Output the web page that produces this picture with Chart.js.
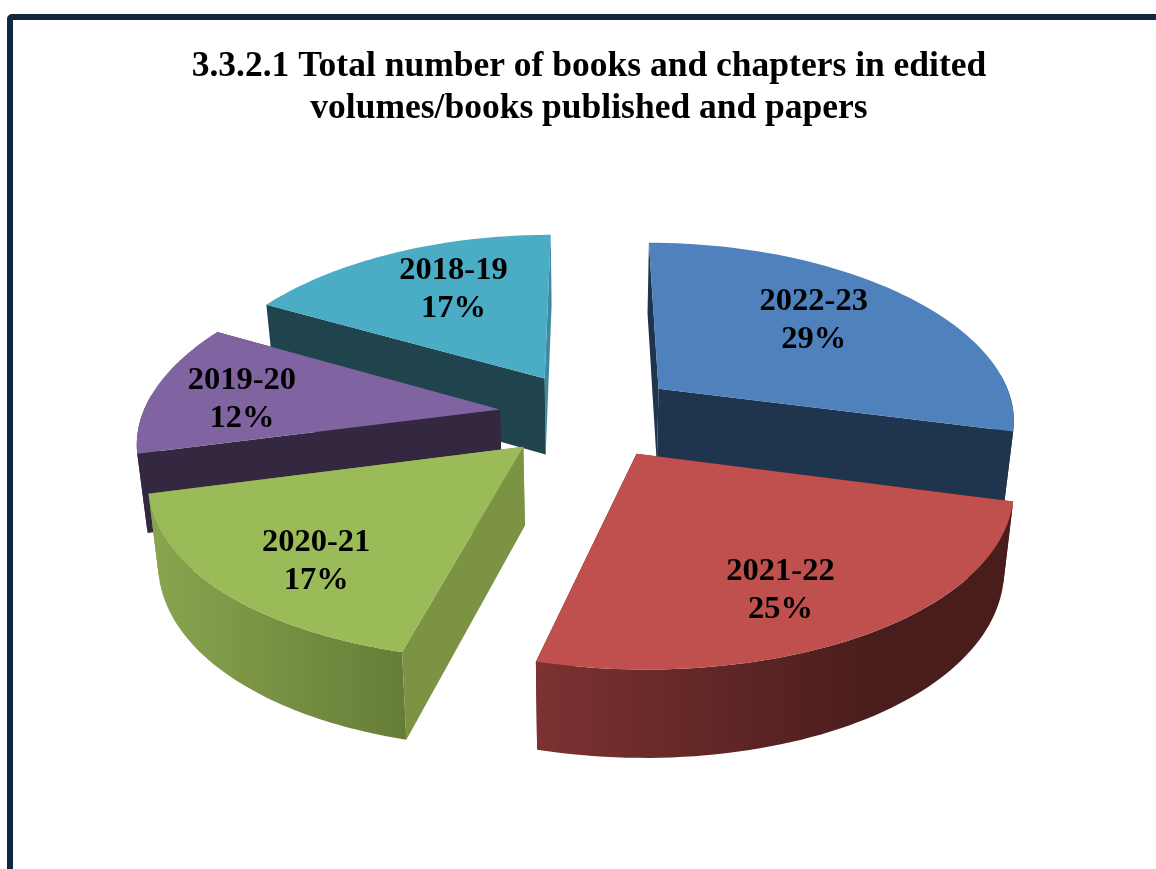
<!DOCTYPE html>
<html>
<head>
<meta charset="utf-8">
<script src="https://cdn.jsdelivr.net/npm/chart.js@4"></script>
<style>
    html, body { margin: 0; padding: 0; background: #fff; overflow: hidden; }
    #frame { position: absolute; left: 7px; top: 14px; width: 2000px; height: 2000px;
             border: 6px solid #10273f; border-radius: 5px; }
    #myChart { position: absolute; left: 0; top: 0; display: block; }
</style>
</head>
<body>
<div id="frame"></div>
<canvas id="myChart" width="1156" height="869"></canvas>
<script>
// values, clockwise from the top
const years = ["2022-23", "2021-22", "2020-21", "2019-20", "2018-19"];
const shares = [29, 25, 17, 12, 17];

// colours per slice
const topColors = ["#4f81bd", "#c0504d", "#9bbb59", "#8064a2", "#4bacc6"];
const faceColors = ["#1f344d", "#4a1e1e", "#7c9344", "#33283f", "#1f444d"];
const bandLeft = ["#1f344d", "#7c3231", "#8aa54f", "#33283f", "#1f444d"];
const bandRight = ["#1f344d", "#4a1d1d", "#667d38", "#33283f", "#1f444d"];

// small shifts of the labels from their spot on the slice
const labelNudge = [[-2, -11], [11, 28], [-28, 27], [-43, 1], [6, -10]];

// fake 3D view of the pie plane
const tilt = 0.475;
const depth = 2595;

function project(u, v, cx, cy) {
    const s = 1 / (1 - v / depth);
    return { x: cx + 0.98 * u * Math.pow(s, 1.15), y: cy + tilt * v * s, s: s };
}

// same point, but on the underside of the slice
function lower(p, cx) {
    return { x: cx + (p.x - cx) * 0.977, y: p.y + 25.6 + 52 * p.s };
}

function fillPoly(ctx, pts, color) {
    ctx.beginPath();
    pts.forEach((p, i) => i ? ctx.lineTo(p.x, p.y) : ctx.moveTo(p.x, p.y));
    ctx.closePath();
    ctx.fillStyle = color;
    ctx.fill();
}

const pie3d = {
    id: "pie3d",
    beforeDatasetDraw(chart, args) {
        const ctx = chart.ctx;
        const arcs = args.meta.data;

        // back slices first
        const order = arcs.map((a, i) => i).sort((a, b) => {
            const ma = (arcs[a].startAngle + arcs[a].endAngle) / 2;
            const mb = (arcs[b].startAngle + arcs[b].endAngle) / 2;
            return Math.sin(ma) - Math.sin(mb);
        });

        order.forEach(i => {
            const arc = arcs[i];
            const mid = (arc.startAngle + arc.endAngle) / 2;
            const off = arc.options.offset;
            const ox = off * Math.cos(mid);
            const oy = off * Math.sin(mid);
            const cx = arc.x, cy = arc.y;

            const apex = project(ox, oy, cx, cy);
            const rim = [];
            const front = [];
            for (let k = 0; k <= 60; k++) {
                const a = arc.startAngle + (arc.endAngle - arc.startAngle) * k / 60;
                const p = project(ox + arc.outerRadius * Math.cos(a), oy + arc.outerRadius * Math.sin(a), cx, cy);
                rim.push(p);
                if (Math.sin(a) > -0.1) front.push(p); // the back of the rim can't be seen
            }
            const apexLow = lower(apex, cx);
            const first = rim[0], last = rim[60];

            // the two cut faces
            let side = i === 4 ? "#3d8aa0" : faceColors[i];
            fillPoly(ctx, [apex, last, lower(last, cx), apexLow], side);
            fillPoly(ctx, [apex, first, lower(first, cx), apexLow], faceColors[i]);

            // outer wall
            if (front.length > 1) {
                const xs = front.map(p => p.x);
                const grad = ctx.createLinearGradient(Math.min(...xs), 0, Math.max(...xs), 0);
                grad.addColorStop(0, bandLeft[i]);
                grad.addColorStop(i === 1 ? 0.7 : 1, bandRight[i]);
                grad.addColorStop(1, bandRight[i]);
                fillPoly(ctx, front.concat(front.map(p => lower(p, cx)).reverse()), grad);
            }

            // top
            fillPoly(ctx, [apex].concat(rim), topColors[i]);
        });

        // labels
        ctx.font = "bold 32.5px 'Liberation Serif'";
        ctx.fillStyle = "#000";
        ctx.textAlign = "center";
        ctx.textBaseline = "middle";
        arcs.forEach((arc, i) => {
            const mid = (arc.startAngle + arc.endAngle) / 2;
            const d = arc.options.offset + arc.outerRadius * 0.62;
            const p = project(d * Math.cos(mid), d * Math.sin(mid), arc.x, arc.y);
            const x = p.x + labelNudge[i][0];
            const y = p.y + labelNudge[i][1];
            ctx.fillText(chart.data.labels[i], x, y - 16.5);
            ctx.fillText(chart.data.datasets[0].data[i] + "%", x, y + 21.5);
        });

        return false; // slices are done, skip the flat ones
    }
};

new Chart(document.getElementById("myChart"), {
    type: "pie",
    data: {
        labels: years,
        datasets: [{
            data: shares,
            backgroundColor: topColors,
            offset: 92,
            borderWidth: 0,
            hoverOffset: 0
        }]
    },
    options: {
        responsive: false,
        animation: false,
        radius: 365,
        rotation: 0,
        layout: { padding: { left: 22, bottom: 178 } },
        plugins: {
            legend: { display: false },
            tooltip: { enabled: false },
            title: {
                display: true,
                text: ["3.3.2.1 Total number of books and chapters in edited",
                       "volumes/books published and papers"],
                color: "#000",
                font: { family: "'Liberation Serif'", size: 35.5, weight: "bold", lineHeight: 1.183 },
                padding: { top: 46, bottom: 9 }
            }
        }
    },
    plugins: [pie3d]
});
</script>
</body>
</html>
